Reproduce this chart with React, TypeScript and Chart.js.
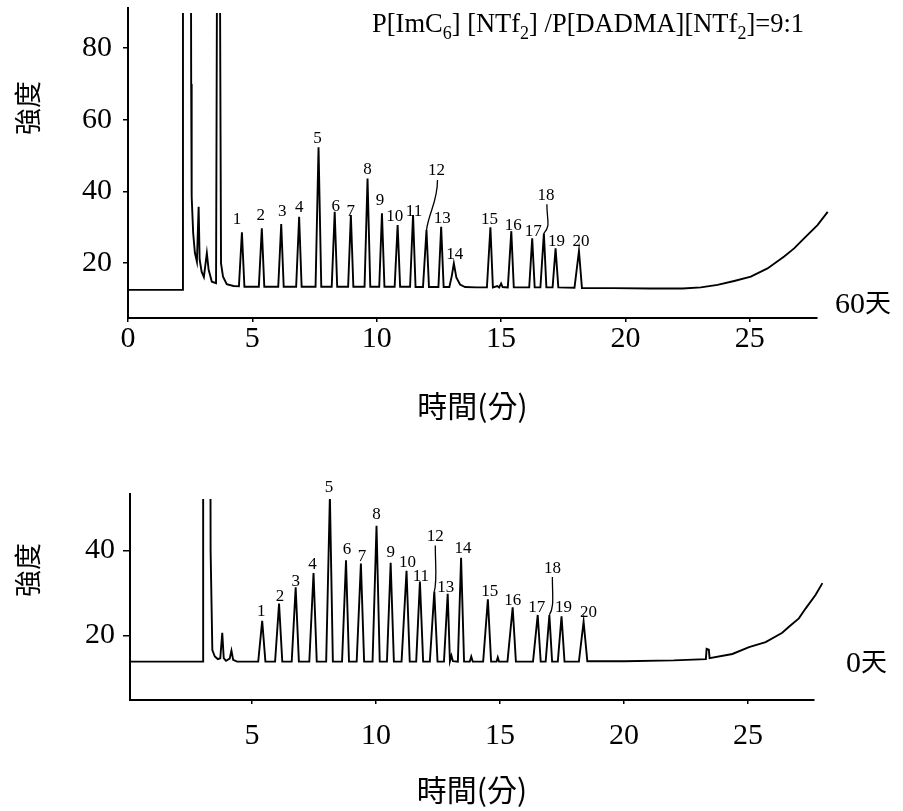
import React, { useEffect, useRef } from 'react';
import { Chart, registerables } from 'chart.js';

Chart.register(...registerables);

// ---------- data ----------
const PEAK_NUMBERS = [1, 2, 3, 4, 5, 6, 7, 8, 9, 10, 11, 12, 13, 14, 15, 16, 17, 18, 19, 20];

const X_AXIS_TITLE = '時間(分)';
const Y_AXIS_TITLE = '強度';
const DAY60_NAME = ['60', '天'];
const DAY0_NAME = ['0', '天'];

const DAY60_X_TICKS = [0, 5, 10, 15, 20, 25];
const DAY60_Y_TICKS = [20, 40, 60, 80];
const DAY0_X_TICKS = [5, 10, 15, 20, 25];
const DAY0_Y_TICKS = [20, 40];

// 60 days chromatogram (time in min, intensity)
const DAY60_TIME = [
  0, 2.21, 2.21, 2.52, 2.54, 2.56, 2.62, 2.69, 2.77, 2.84, 2.88, 2.96, 3.05, 3.17, 3.24, 3.37, 3.54, 3.60, 3.67, 3.74, 3.82, 3.97, 4.24,
  4.46, 4.58, 4.68,
  5.26, 5.38, 5.48,
  6.04, 6.16, 6.26,
  6.76, 6.88, 6.98,
  7.54, 7.66, 7.77,
  8.19, 8.31, 8.41,
  8.85, 8.96, 9.06,
  9.51, 9.63, 9.74,
  10.10, 10.21, 10.31,
  10.72, 10.84, 10.94,
  11.34, 11.46, 11.56,
  11.86, 12.00, 12.10,
  12.48, 12.59, 12.69,
  12.92, 13.02, 13.10, 13.20, 13.35, 13.55,
  14.00, 14.30,
  14.43, 14.57, 14.67,
  14.85, 14.92, 15.00, 15.06,
  15.27, 15.41, 15.51,
  16.13, 16.25, 16.35,
  16.58, 16.72, 16.82,
  17.07, 17.19, 17.30,
  17.95, 18.13, 18.25,
  19.5, 21.0, 22.3, 23.03, 23.7, 24.37, 25.04, 25.71, 26.38, 26.78, 27.18, 27.72, 28.13,
];
const DAY60_SIGNAL = [
  12.5, 12.5, 150, 150, 70, 38.5, 28.4, 22.8, 20.4, 35.7, 21.0, 17.6, 16.1, 22.8, 18.2, 14.8, 14.4, 150, 150, 19.9, 16.2, 14.1, 13.6,
  13.5, 28.6, 13.4,
  13.4, 29.7, 13.4,
  13.4, 30.9, 13.4,
  13.4, 32.9, 13.4,
  13.4, 52.3, 13.4,
  13.4, 34.3, 13.4,
  13.4, 33.4, 13.4,
  13.4, 43.6, 13.4,
  13.4, 33.9, 13.4,
  13.4, 30.6, 13.4,
  13.4, 33.4, 13.3,
  13.3, 29.2, 13.3,
  13.3, 30.1, 13.3,
  13.3, 16.5, 19.9, 16.0, 14.0, 13.3,
  13.2, 13.2,
  13.2, 30.0, 13.2,
  13.6, 13.2, 14.3, 13.3,
  13.2, 28.9, 13.2,
  13.2, 26.9, 13.2,
  13.2, 28.3, 13.2,
  13.2, 24.1, 13.2,
  13.1, 23.4, 13.0,
  13.0, 12.9, 12.9, 13.2, 13.9, 15.0, 16.2, 18.5, 21.8, 24.1, 26.9, 30.6, 34.3,
];
const DAY60_PEAK_TIME = [4.58, 5.38, 6.16, 6.88, 7.66, 8.31, 8.96, 9.63, 10.21, 10.84, 11.46, 12.00, 12.59, 13.10, 14.57, 15.41, 16.25, 16.72, 17.19, 18.13];
const DAY60_PEAK_HEIGHT = [28.6, 29.7, 30.9, 32.9, 52.3, 34.3, 33.4, 43.6, 33.9, 30.6, 33.4, 29.2, 30.1, 19.9, 30.0, 28.9, 26.9, 28.3, 24.1, 23.4];

// 0 days chromatogram
const DAY0_TIME = [
  0, 3.03, 3.03, 3.30, 3.33, 3.40, 3.50, 3.62, 3.72, 3.80, 3.86, 3.95, 4.10, 4.17, 4.24, 4.40,
  5.25, 5.41, 5.54,
  5.93, 6.09, 6.22,
  6.60, 6.76, 6.89,
  7.31, 7.48, 7.61,
  7.99, 8.14, 8.26,
  8.63, 8.79, 8.91,
  9.22, 9.39, 9.52,
  9.86, 10.02, 10.15,
  10.44, 10.59, 10.72,
  11.03, 11.23, 11.36,
  11.62, 11.77, 11.90,
  12.17, 12.35, 12.48,
  12.74, 12.89, 12.98, 13.04, 13.10,
  13.30, 13.43, 13.55,
  13.78, 13.84, 13.90,
  14.32, 14.51, 14.64,
  14.86, 14.91, 14.96,
  15.30, 15.51, 15.64,
  16.33, 16.52, 16.64,
  16.84, 16.99, 17.10,
  17.33, 17.48, 17.60,
  18.18, 18.37, 18.52,
  20.0, 22.0, 23.30, 23.33, 23.42, 23.45, 24.37, 25.04, 25.71, 26.38, 26.65, 27.05, 27.32, 27.72, 28.0,
];
const DAY0_SIGNAL = [
  13.8, 13.8, 150, 150, 40, 16.5, 15.0, 14.4, 14.6, 20.6, 14.6, 14.0, 14.5, 16.4, 14.2, 13.8,
  13.8, 23.4, 13.8,
  13.8, 27.5, 13.8,
  13.8, 31.3, 13.8,
  13.8, 34.7, 13.8,
  13.8, 52.9, 13.8,
  13.8, 37.7, 13.8,
  13.8, 36.9, 13.8,
  13.8, 45.8, 13.8,
  13.8, 37.1, 13.8,
  13.8, 35.2, 13.8,
  13.8, 32.7, 13.8,
  13.8, 30.3, 13.8,
  13.8, 29.8, 13.9, 15.2, 13.9,
  13.8, 38.3, 13.8,
  13.8, 15.0, 13.8,
  13.8, 28.5, 13.8,
  13.8, 14.8, 13.8,
  13.8, 26.6, 13.8,
  13.8, 24.8, 13.8,
  13.8, 24.8, 13.8,
  13.8, 24.5, 13.8,
  13.8, 23.2, 13.9,
  13.9, 14.1, 14.4, 16.8, 16.6, 14.6, 15.6, 17.2, 18.4, 20.6, 22.0, 24.0, 26.3, 29.5, 32.3,
];
const DAY0_PEAK_TIME = [5.41, 6.09, 6.76, 7.48, 8.14, 8.79, 9.39, 10.02, 10.59, 11.23, 11.77, 12.35, 12.89, 13.43, 14.51, 15.51, 16.52, 16.99, 17.48, 18.37];
const DAY0_PEAK_HEIGHT = [23.4, 27.5, 31.3, 34.7, 52.9, 37.7, 36.9, 45.8, 37.1, 35.2, 32.7, 30.3, 29.8, 38.3, 28.5, 26.6, 24.8, 24.8, 24.5, 23.2];

// ---------- styling ----------
const SERIF = '"Liberation Serif", "Times New Roman", serif';
const CJK = '"Noto Sans CJK TC", "Noto Sans CJK JP", sans-serif';

// label offsets (px) from peak apex: [dx, baseline dy]
const DAY60_LABEL_OFFSETS = [
  [-5, -8], [-1, -8], [1, -8], [0, -5], [-1, -4], [1, -1], [0, 1], [0, -5], [-2, -8], [-3, -4],
  [1, 1], [10, -55], [1, -4], [1, -4], [-1, -3], [2, -1], [1, -2], [2, -33], [1, -2], [2, -5],
];
const DAY0_LABEL_OFFSETS = [
  [-1, -5], [1, -2], [0, -1], [-1, -4], [-1, -4], [1, -6], [1, -3], [0, -7], [0, -6], [1, -4],
  [1, 0], [1, -51], [-2, -2], [2, -5], [2, -3], [0, -2], [-1, -3], [3, -42], [2, -4], [5, -5],
];
// leader curves: peak index -> [start, cp1, cp2] relative to apex
const DAY60_LEADERS = {
  11: [[11, -50], [11, -28], [3, -20]],
  17: [[3, -29], [3, -12], [7, -8]],
};
const DAY0_LEADERS = {
  11: [[1, -46], [1, -25], [3, -12]],
  17: [[3, -38], [3, -18], [5, -8]],
};

type PanelSpec = {
  top: number;
  height: number;
  time: number[];
  signal: number[];
  peakTime: number[];
  peakHeight: number[];
  xTicks: number[];
  yTicks: number[];
  xMin: number;
  xMax: number;
  yMin: number;
  yMax: number;
  padTop: number;
  padRight: number;
  yWidth: number;
  xHeight: number;
  xTickPad: number;
  yTickLen: number;
  yTickPad: number;
  titlePadBottom: number;
  labelOffsets: number[][];
  leaders: Record<number, number[][]>;
  yTitleY: number;
  dayName: string[];
  dayX: number;
  dayY: number;
  showHeader: boolean;
};

const PANELS: PanelSpec[] = [
  {
    top: 0, height: 430,
    time: DAY60_TIME, signal: DAY60_SIGNAL,
    peakTime: DAY60_PEAK_TIME, peakHeight: DAY60_PEAK_HEIGHT,
    xTicks: DAY60_X_TICKS, yTicks: DAY60_Y_TICKS,
    xMin: 0, xMax: 27.7, yMin: 4.66, yMax: 91.2,
    padTop: 8, padRight: 86, yWidth: 128, xHeight: 112,
    xTickPad: -1, yTickLen: 5, yTickPad: 11, titlePadBottom: 6,
    labelOffsets: DAY60_LABEL_OFFSETS, leaders: DAY60_LEADERS,
    yTitleY: 108, dayName: DAY60_NAME, dayX: 835, dayY: 313, showHeader: true,
  },
  {
    top: 430, height: 381,
    time: DAY0_TIME, signal: DAY0_SIGNAL,
    peakTime: DAY0_PEAK_TIME, peakHeight: DAY0_PEAK_HEIGHT,
    xTicks: DAY0_X_TICKS, yTicks: DAY0_Y_TICKS,
    xMin: 0.08, xMax: 27.66, yMin: 4.76, yMax: 53.3,
    padTop: 64, padRight: 89, yWidth: 130, xHeight: 111,
    xTickPad: 14, yTickLen: 7, yTickPad: 8, titlePadBottom: 3,
    labelOffsets: DAY0_LABEL_OFFSETS, leaders: DAY0_LEADERS,
    yTitleY: 140, dayName: DAY0_NAME, dayX: 846, dayY: 242, showHeader: false,
  },
];

const HEADER_PARTS: [string, boolean][] = [
  ['P[ImC', false], ['6', true], ['] [NTf', false], ['2', true],
  ['] /P[DADMA][NTf', false], ['2', true], [']=9:1', false],
];

function makePlugin(spec: PanelSpec) {
  return {
    id: 'chromAnnotations',
    afterDraw(chart: any) {
      const { ctx, scales } = chart;
      const xs = scales.x;
      const ys = scales.y;
      ctx.save();
      ctx.fillStyle = '#000';
      ctx.strokeStyle = '#000';

      // peak labels
      ctx.font = `17px ${SERIF}`;
      ctx.textAlign = 'center';
      ctx.textBaseline = 'alphabetic';
      PEAK_NUMBERS.forEach((n, i) => {
        const px = xs.getPixelForValue(spec.peakTime[i]);
        const py = ys.getPixelForValue(spec.peakHeight[i]);
        const [dx, dy] = spec.labelOffsets[i];
        ctx.fillText(String(n), px + dx, py + dy);
      });
      // leader lines
      ctx.lineWidth = 1.3;
      Object.keys(spec.leaders).forEach((k) => {
        const i = Number(k);
        const px = xs.getPixelForValue(spec.peakTime[i]);
        const py = ys.getPixelForValue(spec.peakHeight[i]);
        const [s, c1, c2] = spec.leaders[i];
        ctx.beginPath();
        ctx.moveTo(px + s[0], py + s[1]);
        ctx.bezierCurveTo(px + c1[0], py + c1[1], px + c2[0], py + c2[1], px, py);
        ctx.stroke();
      });

      // y-axis title
      ctx.save();
      ctx.translate(28, spec.yTitleY);
      ctx.rotate(-Math.PI / 2);
      ctx.font = `27px ${CJK}`;
      ctx.textAlign = 'center';
      ctx.textBaseline = 'middle';
      ctx.fillText(Y_AXIS_TITLE, 0, 0);
      ctx.restore();

      // day label
      ctx.textAlign = 'left';
      ctx.textBaseline = 'alphabetic';
      ctx.font = `30px ${SERIF}`;
      ctx.fillText(spec.dayName[0], spec.dayX, spec.dayY);
      const w = ctx.measureText(spec.dayName[0]).width;
      ctx.font = `26px ${CJK}`;
      ctx.fillText(spec.dayName[1], spec.dayX + w, spec.dayY - 1);

      // header
      if (spec.showHeader) {
        let cx = 372;
        const by = 32;
        HEADER_PARTS.forEach(([txt, sub]) => {
          ctx.font = sub ? `18px ${SERIF}` : `26.5px ${SERIF}`;
          ctx.fillText(txt, cx, sub ? by + 7 : by);
          cx += ctx.measureText(txt).width;
        });
      }
      ctx.restore();
    },
  };
}

function Panel({ spec }: { spec: PanelSpec }) {
  const ref = useRef<HTMLCanvasElement>(null);
  useEffect(() => {
    if (!ref.current) return;
    const points = spec.time.map((t, i) => ({ x: t, y: spec.signal[i] }));
    const chart = new Chart(ref.current, {
      type: 'line',
      data: {
        datasets: [
          {
            data: points,
            borderColor: '#000',
            borderWidth: 1.9,
            pointRadius: 0,
            tension: 0,
            fill: false,
            clip: { left: 0, top: -5, right: 20, bottom: 0 } as any,
          },
        ],
      },
      options: {
        animation: false,
        responsive: false,
        devicePixelRatio: 1,
        parsing: false,
        layout: { padding: { top: spec.padTop, right: spec.padRight, left: 0, bottom: 0 } },
        plugins: { legend: { display: false }, tooltip: { enabled: false } },
        scales: {
          x: {
            type: 'linear',
            bounds: 'data',
            afterDataLimits: (s: any) => {
              s.min = spec.xMin;
              s.max = spec.xMax;
            },
            afterBuildTicks: (s: any) => {
              s.ticks = spec.xTicks.map((v) => ({ value: v }));
            },
            afterFit: (s: any) => {
              s.height = spec.xHeight;
              s.paddingLeft = 0;
              s.paddingRight = 0;
            },
            grid: { drawOnChartArea: false, drawTicks: true, tickLength: 4, color: '#000', lineWidth: 1.5 },
            border: { display: true, color: '#000', width: 2 },
            ticks: {
              color: '#000',
              font: { family: SERIF, size: 30 },
              padding: spec.xTickPad,
              maxRotation: 0,
              autoSkip: false,
            },
            title: {
              display: true,
              text: X_AXIS_TITLE,
              color: '#000',
              font: { family: CJK, size: 30 },
              padding: { top: 0, bottom: spec.titlePadBottom },
            },
          },
          y: {
            type: 'linear',
            bounds: 'data',
            afterDataLimits: (s: any) => {
              s.min = spec.yMin;
              s.max = spec.yMax;
            },
            afterBuildTicks: (s: any) => {
              s.ticks = spec.yTicks.map((v) => ({ value: v }));
            },
            afterFit: (s: any) => {
              s.width = spec.yWidth;
              s.paddingTop = 0;
              s.paddingBottom = 0;
            },
            grid: { drawOnChartArea: false, drawTicks: true, tickLength: spec.yTickLen, color: '#000', lineWidth: 1.5 },
            border: { display: true, color: '#000', width: 2 },
            ticks: {
              color: '#000',
              font: { family: SERIF, size: 30 },
              padding: spec.yTickPad,
              autoSkip: false,
            },
          },
        },
      },
      plugins: [makePlugin(spec)],
    } as any);
    return () => chart.destroy();
  }, [spec]);
  return (
    <canvas
      ref={ref}
      width={903}
      height={spec.height}
      style={{ position: 'absolute', left: 0, top: spec.top, width: 903, height: spec.height }}
    />
  );
}

export default function App() {
  return (
    <div style={{ position: 'absolute', left: 0, top: 0, width: 903, height: 811, background: '#fff' }}>
      {PANELS.map((p, i) => (
        <Panel key={i} spec={p} />
      ))}
    </div>
  );
}
